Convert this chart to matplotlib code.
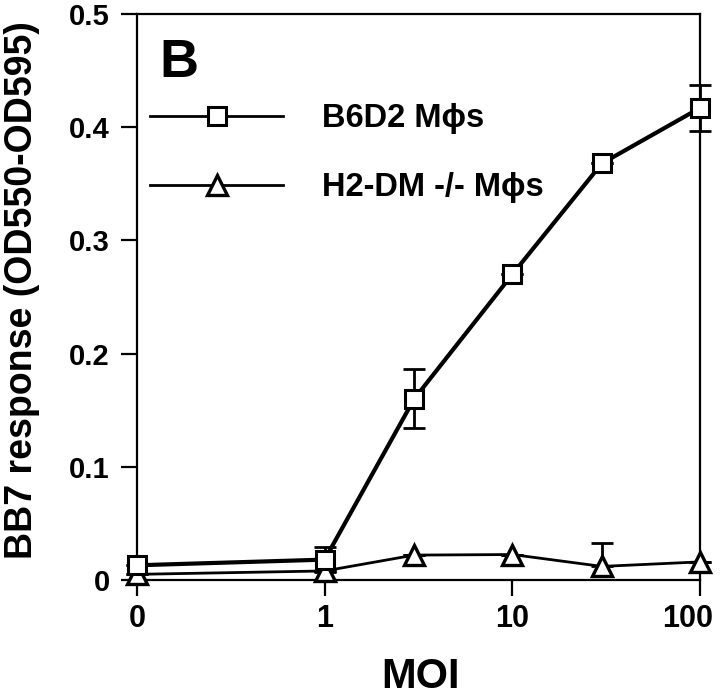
import numpy as np
import matplotlib
matplotlib.use('Agg')
import matplotlib.pyplot as plt
import matplotlib.transforms as mtransforms
from matplotlib.lines import Line2D

plt.rcParams['font.family'] = ['Liberation Sans', 'DejaVu Sans']
plt.rcParams['font.weight'] = 'bold'

# MOI values (0 is drawn one decade below 1)
moi = [0, 1, 3, 10, 30, 100]

b6d2 = [0.013, 0.018, 0.160, 0.270, 0.368, 0.417]
b6d2_err = [0.0, 0.011, 0.026, 0.0, 0.0, 0.020]

h2dm = [0.005, 0.008, 0.022, 0.0225, 0.012, 0.016]
h2dm_err_up = [0.0, 0.0, 0.0, 0.0, 0.021, 0.0]

x_ticks = [0, 1, 10, 100]
x_ticklabels = ['0', '1', '10', '100']
y_ticks = [0, 0.1, 0.2, 0.3, 0.4, 0.5]
y_ticklabels = ['0', '0.1', '0.2', '0.3', '0.4', '0.5']

labels = ['B6D2 M\u03d5s', 'H2-DM -/- M\u03d5s']


def fwd(x):
    x = np.asarray(x, dtype=float)
    return np.where(x < 1, x - 1, np.log10(np.maximum(x, 1)))


def inv(y):
    y = np.asarray(y, dtype=float)
    return np.where(y < 0, y + 1, 10 ** np.maximum(y, 0))


fig = plt.figure(figsize=(7.2, 7), dpi=100)
ax = fig.add_axes([137 / 720, 1 - 580 / 700, (700 - 137) / 720, (580 - 14) / 700])
ax.set_xscale('function', functions=(fwd, inv))
ax.set_xlim(0, 100)
ax.set_ylim(0, 0.5)

# triangles first, squares on top
ax.errorbar(moi, h2dm, yerr=[[0] * len(moi), h2dm_err_up], fmt='none',
            ecolor='black', elinewidth=2, capsize=8, capthick=2, clip_on=False)
ax.plot(moi, h2dm, color='black', lw=2, marker='^', ms=14, mfc='white',
        mec='black', mew=2.4, clip_on=False, zorder=3)

ax.errorbar(moi, b6d2, yerr=b6d2_err, fmt='none', ecolor='black',
            elinewidth=2, capsize=8, capthick=2, clip_on=False)
ax.plot(moi, b6d2, color='black', lw=3, marker='s', ms=13, mfc='white',
        mec='black', mew=2.2, clip_on=False, zorder=4)

for s in ax.spines.values():
    s.set_linewidth(1.6)

ax.set_xticks(x_ticks)
ax.set_xticklabels(x_ticklabels)
ax.minorticks_off()
ax.set_yticks(y_ticks)
ax.set_yticklabels(y_ticklabels)
ax.tick_params(axis='both', direction='out', width=1.6, length=11.5)
ax.tick_params(axis='x', labelsize=22, pad=6)
ax.tick_params(axis='y', labelsize=21, pad=8)

# the "100" label sits a little left of its tick
shift = mtransforms.ScaledTranslation(-12 / 100, 0, fig.dpi_scale_trans)
last = ax.get_xticklabels()[-1]
last.set_transform(last.get_transform() + shift)

ax.set_xlabel('MOI', fontsize=30, fontweight='bold', va='center')
ax.xaxis.set_label_coords(0.504, -0.171)
ax.set_ylabel('BB7 response (OD550-OD595)', fontsize=27, fontweight='bold')
ax.yaxis.set_label_coords(-0.172, 0.512)

ax.text(0.04, 0.958, 'B', transform=ax.transAxes, fontsize=39,
        fontweight='bold', va='top', ha='left')

handles = [
    Line2D([], [], color='black', lw=2, marker='s', ms=13, mfc='white',
           mec='black', mew=2.2),
    Line2D([], [], color='black', lw=2, marker='^', ms=14, mfc='white',
           mec='black', mew=2.4),
]
ax.legend(handles, labels, loc='upper left', bbox_to_anchor=(0.023, 0.842),
          frameon=False, fontsize=23.5, handlelength=4.08, handletextpad=1.2,
          labelspacing=1.15, borderaxespad=0, borderpad=0)

fig.savefig('out.png', dpi=100)
